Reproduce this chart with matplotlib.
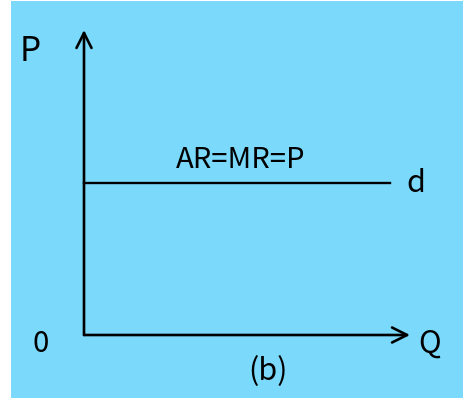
import matplotlib.pyplot as plt
from matplotlib.patches import Rectangle

plt.rcParams['font.family'] = ['Noto Sans CJK SC', 'DejaVu Sans']

# axis lengths and demand line (units along Q and P)
q_axis_end = 10.0
p_axis_end = 10.0
price = 5.0
d_end = 9.4

labels = {'P': 'P', 'Q': 'Q', 'O': '0', 'd': 'd', 'curve': 'AR=MR=P', 'panel': '(b)'}

fig = plt.figure(figsize=(4.64, 4.01), dpi=100)
fig.patches.append(Rectangle((11 / 464, 3 / 401), 1 - 11 / 464, 397 / 401,
                             transform=fig.transFigure, facecolor='#7BDAFC',
                             edgecolor='none', zorder=-5))

ax = fig.add_axes([0, 0, 1, 1])
ax.set_zorder(2)
ax.set_facecolor('none')
ax.set_xlim(-84 / 32.6, 380 / 32.6)
ax.set_ylim(-66 / 30.5, 335 / 30.5)
ax.axis('off')

arrow = dict(arrowstyle='->', lw=1.9, color='black', mutation_scale=27,
             shrinkA=0, shrinkB=0)
# P axis
ax.annotate('', xy=(0, p_axis_end), xytext=(0, 0), arrowprops=arrow)
# Q axis
ax.annotate('', xy=(q_axis_end, 0), xytext=(0, 0), arrowprops=arrow)

# demand curve
ax.plot([0, d_end], [price, price], color='black', lw=1.7)

kw = dict(ha='center', va='center', fontweight='medium')
ax.text(-1.66, 9.31, labels['P'], fontsize=24, **kw)
ax.text(-1.32, -0.30, labels['O'], fontsize=21, **kw)
ax.text(10.61, -0.26, labels['Q'], fontsize=22, **kw)
ax.text(10.18, 4.98, labels['d'], fontsize=22, **kw)
ax.text(4.79, 5.74, labels['curve'], fontsize=21, **kw)
ax.text(5.64, -1.21, labels['panel'], fontsize=22, **kw)

fig.savefig('out.png', dpi=100)
